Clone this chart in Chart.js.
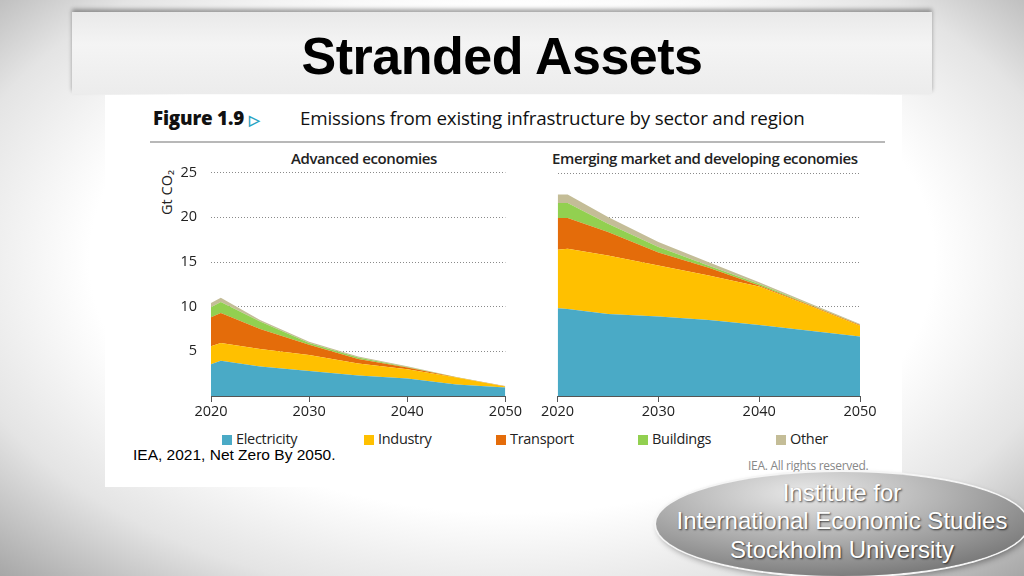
<!DOCTYPE html>
<html>
<head>
<meta charset="utf-8">
<script src="https://cdn.jsdelivr.net/npm/chart.js@4"></script>
<style>
  html, body { margin: 0; padding: 0; }
  body {
    width: 1024px; height: 576px; position: relative; overflow: hidden;
    background: radial-gradient(ellipse 75% 80% at 50% 45%, #ffffff 55%, #e4e4e4 75%, #9a9a9a 100%);
    font-family: "Liberation Sans", Arial, sans-serif;
  }
  .banner {
    position: absolute; left: 72px; top: 12px; width: 860px; height: 82px;
    background: linear-gradient(#e9e9e9, #f4f4f4 40%, #ececec);
    box-shadow: 0 -3px 4px rgba(0,0,0,0.35);
  }
  .banner h1 {
    margin: 0; position: absolute; left: 0; right: 0; top: 14px;
    text-align: center; font-size: 52px; font-weight: bold; color: #000;
    letter-spacing: -0.5px;
  }
  .figure {
    position: absolute; left: 105px; top: 95px; width: 797px; height: 392px; background: #fff;
  }
  .abs { position: absolute; white-space: nowrap; }
  .figtitle { font-family: "Open Sans", sans-serif; font-size: 18.8px; color: #111; letter-spacing: -0.2px; }
  .panelt { font-family: "Open Sans", sans-serif; font-size: 15px; font-weight: 600; color: #222; letter-spacing: -0.4px; }
  .legend { font-family: "Open Sans", sans-serif; font-size: 14.5px; color: #222; letter-spacing: -0.3px; }
  .legend span.sw { display: inline-block; width: 10px; height: 10px; margin-right: 4px; vertical-align: -1px; }
  canvas { position: absolute; }
  .logo {
    position: absolute; left: 656px; top: 472px; width: 372px; height: 104px; border-radius: 50%;
    background: radial-gradient(ellipse 80% 90% at 40% 20%, #e8e8e8 0%, #b5b5b5 45%, #8a8a8a 80%, #707070 100%);
    box-shadow: 0 0 0 2px #f5f5f5, 2px 3px 6px rgba(0,0,0,0.4);
  }
  .logot { color: #fff; font-size: 24px; text-align: center; width: 372px; left: 656px;
    text-shadow: 1px 1px 2px rgba(0,0,0,0.7); }
</style>
</head>
<body>
<div class="banner"><h1>Stranded Assets</h1></div>
<div class="figure"></div>
<div class="abs figtitle" style="left:153px; top:105px;"><b style="font-weight:800">Figure 1.9</b> <span style="color:#2aa3c4;font-size:14px;font-weight:bold">&#9655;</span></div>
<div class="abs figtitle" style="left:300px; top:105px;">Emissions from existing infrastructure by sector and region</div>
<div class="abs" style="left:150px; top:141px; width:735px; height:2px; background:#b8b8b8;"></div>
<div class="abs panelt" style="left:291px; top:148px;">Advanced economies</div>
<div class="abs panelt" style="left:552px; top:148px;">Emerging market and developing economies</div>
<div class="abs" style="left:136px; top:183px; transform: rotate(-90deg); transform-origin: center; font-family:'Open Sans',sans-serif; font-size:14.5px; color:#222; width:60px; text-align:center;">Gt CO&#8322;</div>

<canvas id="left" width="373" height="275" style="left:150px; top:150px;"></canvas>
<canvas id="right" width="340" height="265" style="left:540px; top:160px;"></canvas>

<div class="abs legend" id="legend" style="left:0; top:429px; width:1024px;"></div>
<div class="abs" style="left:133px; top:446px; font-size:15.5px; color:#000;">IEA, 2021, Net Zero By 2050.</div>
<div class="abs" style="left:748px; top:457px; font-family:'Open Sans',sans-serif; font-size:12px; color:#888; letter-spacing:-0.3px;">IEA. All rights reserved.</div>

<div class="logo"></div>
<div class="abs logot" style="top:479px;">Institute for</div>
<div class="abs logot" style="top:507px;">International Economic Studies</div>
<div class="abs logot" style="top:536px;">Stockholm University</div>

<script>
const years = [2020, 2021, 2025, 2030, 2035, 2040, 2045, 2050];
const sectors = ["Electricity", "Industry", "Transport", "Buildings", "Other"];
const colors = ["#4aaac6", "#ffc000", "#e46c0a", "#92d050", "#c4bd97"];
const yTicks = [5, 10, 15, 20, 25];
const xTicks = [2020, 2030, 2040, 2050];

// Gt CO2 per sector, Advanced economies
const advElectricity = [3.56, 3.94, 3.3, 2.8, 2.3, 1.95, 1.3, 0.95];
const advIndustry    = [2.0, 2.0, 1.95, 1.78, 1.34, 1.05, 0.76, 0.1];
const advTransport   = [3.25, 3.34, 2.25, 1.16, 0.49, 0.19, 0.04, 0.03];
const advBuildings   = [1.14, 1.23, 0.83, 0.19, 0.17, 0.06, 0.02, 0.02];
const advOther       = [0.46, 0.5, 0.17, 0.15, 0.13, 0.09, 0.02, 0.03];

// Emerging market and developing economies
const emdElectricity = [9.83, 9.76, 9.2, 8.9, 8.52, 7.95, 7.32, 6.68];
const emdIndustry    = [6.57, 6.74, 6.56, 5.73, 4.98, 4.32, 2.81, 1.2];
const emdTransport   = [3.56, 3.46, 2.63, 1.47, 0.87, 0.11, 0.07, 0.07];
const emdBuildings   = [1.69, 1.69, 0.91, 0.6, 0.23, 0.19, 0.05, 0.05];
const emdOther       = [0.95, 0.95, 0.77, 0.56, 0.4, 0.19, 0.14, 0.07];

// legend
const legendPos = [222, 364, 496, 638, 776];
const legend = document.getElementById("legend");
sectors.forEach((s, i) => {
  const el = document.createElement("div");
  el.style.position = "absolute";
  el.style.left = legendPos[i] + "px";
  el.innerHTML = '<span class="sw" style="background:' + colors[i] + '"></span>' + s;
  legend.appendChild(el);
});

function makeChart(id, series, showY, yWidth, padTop, padRight) {
  const datasets = series.map((vals, i) => ({
    label: sectors[i],
    data: vals.map((v, k) => ({ x: years[k], y: v })),
    backgroundColor: colors[i],
    borderColor: colors[i],
    borderWidth: 0,
    pointRadius: 0,
    tension: 0,
    fill: i === 0 ? "origin" : "-1",
  }));
  return new Chart(document.getElementById(id), {
    type: "line",
    data: { datasets: datasets },
    options: {
      responsive: false,
      animation: false,
      layout: { padding: { top: padTop, right: padRight, left: 0, bottom: 0 } },
      plugins: { legend: { display: false }, tooltip: { enabled: false } },
      scales: {
        x: {
          type: "linear",
          min: 2020,
          max: 2050,
          afterFit: (s) => { s.height = 29; },
          afterBuildTicks: (s) => { s.ticks = xTicks.map((v) => ({ value: v })); },
          ticks: {
            color: "#222",
            font: { family: "Open Sans", size: 14.5 },
            padding: 1,
            maxRotation: 0,
            callback: (v) => String(v),
          },
          grid: { drawOnChartArea: false, tickLength: 6, color: "#555", lineWidth: 1 },
          border: { color: "#555", width: 1 },
        },
        y: {
          stacked: true,
          min: 0,
          max: 25,
          afterFit: (s) => { s.width = yWidth; },
          afterBuildTicks: (s) => { s.ticks = [0].concat(yTicks).map((v) => ({ value: v })); },
          ticks: {
            display: showY,
            color: "#222",
            font: { family: "Open Sans", size: 14.5 },
            padding: 14,
            callback: (v) => (v === 0 ? "" : String(v)),
          },
          grid: { drawTicks: false, color: "#8a8a8a", lineWidth: 1 },
          border: { display: false, dash: [1, 2] },
        },
      },
    },
  });
}

const leftChart = makeChart("left",
  [advElectricity, advIndustry, advTransport, advBuildings, advOther], true, 61, 3, 10);
const rightChart = makeChart("right",
  [emdElectricity, emdIndustry, emdTransport, emdBuildings, emdOther], false, 17, 13, 20);
</script>
</body>
</html>
